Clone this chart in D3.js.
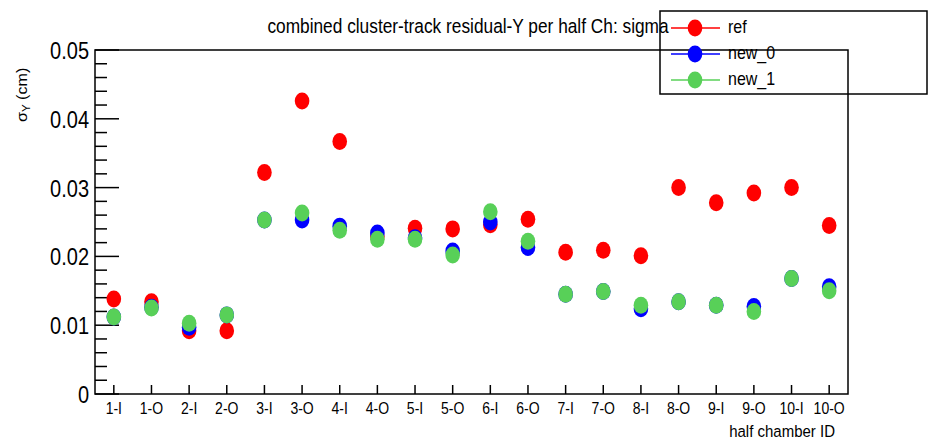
<!DOCTYPE html>
<html><head><meta charset="utf-8">
<script src="https://cdn.jsdelivr.net/npm/d3@7"></script>
<style>body{margin:0;background:#fff}svg{display:block}text{font-family:"Liberation Sans",Arial,sans-serif;fill:#000}</style>
</head><body>
<svg id="c" width="928" height="440"></svg>
<script>
const categories = ["1-I","1-O","2-I","2-O","3-I","3-O","4-I","4-O","5-I","5-O","6-I","6-O","7-I","7-O","8-I","8-O","9-I","9-O","10-I","10-O"];
const refVals  = [0.0138,0.0134,0.0092,0.0092,0.0322,0.0426,0.0367,0.0229,0.0241,0.0240,0.0246,0.0254,0.0206,0.0209,0.0201,0.0300,0.0278,0.0292,0.0300,0.0245];
const new0Vals = [0.0112,0.0126,0.0097,0.0115,0.0253,0.0253,0.0244,0.0234,0.0227,0.0208,0.0250,0.0213,0.0145,0.0149,0.0124,0.0134,0.0129,0.0127,0.0168,0.0156];
const new1Vals = [0.0112,0.0125,0.0103,0.0115,0.0253,0.0263,0.0238,0.0225,0.0225,0.0202,0.0265,0.0222,0.0145,0.0149,0.0129,0.0134,0.0129,0.0120,0.0168,0.0150];
const yTicks = [0,0.01,0.02,0.03,0.04,0.05];
const seriesNames = ["ref","new_0","new_1"];
const seriesColors = ["#ff0000","#0000ff","#58d058"];

const L=95,R=848,T=50,B=394, S=1.15;
const svg=d3.select("#c");
const x=d3.scaleBand().domain(categories).range([L,R]);
const y=d3.scaleLinear().domain([0,0.05]).range([B,T]);

function txt(g,str,px,py,size,anchor){
  const t=g.append("g").attr("transform",`translate(${px},${py}) scale(1,${S})`)
    .append("text").attr("font-size",size).attr("text-anchor",anchor||"start").text(str);
  return t;
}

// frame
svg.append("rect").attr("x",L).attr("y",T).attr("width",R-L).attr("height",B-T)
  .attr("fill","none").attr("stroke","#000").attr("stroke-width",1.5);

// y axis ticks
const yMinor=d3.range(0,0.0501,0.002);
svg.append("g").selectAll("line").data(yMinor).join("line")
  .attr("x1",L).attr("x2",d=>Math.abs(d/0.01-Math.round(d/0.01))<1e-6?L+24:L+12)
  .attr("y1",d=>y(d)).attr("y2",d=>y(d)).attr("stroke","#000").attr("stroke-width",1.5);
const yl=svg.append("g");
yTicks.forEach(v=>txt(yl,v===0?"0":d3.format(".2f")(v),89,y(v)+9,20,"end").attr("fill","#111"));

// x axis ticks
svg.append("g").selectAll("line").data(categories).join("line")
  .attr("x1",d=>x(d)+x.bandwidth()/2).attr("x2",d=>x(d)+x.bandwidth()/2)
  .attr("y1",B).attr("y2",B-9).attr("stroke","#000").attr("stroke-width",1.5);
const xl=svg.append("g");
categories.forEach(c=>txt(xl,c,x(c)+x.bandwidth()/2,414,14,"middle").attr("fill","#333"));

// axis titles
txt(svg,"half chamber ID",835,437,15,"end").attr("fill","#111");
const yt=svg.append("g").attr("transform","translate(27,122) rotate(-90) scale(1.15,1)")
  .append("text").attr("font-size",14).attr("text-anchor","start").attr("fill","#111");
yt.append("tspan").text("σ");
yt.append("tspan").attr("font-size",10).attr("dy",3).text("Y");
yt.append("tspan").attr("dy",-3).text(" (cm)");

// title
txt(svg,"combined cluster-track residual-Y per half Ch: sigma",468,33,17.3,"middle").attr("fill","#111");

// data
[refVals,new0Vals,new1Vals].forEach((vals,i)=>{
  svg.append("g").selectAll("ellipse").data(vals).join("ellipse")
    .attr("cx",(d,j)=>x(categories[j])+x.bandwidth()/2).attr("cy",d=>y(d))
    .attr("rx",7.3).attr("ry",8.5).attr("fill",seriesColors[i]);
});

// legend
const lg=svg.append("g");
lg.append("rect").attr("x",660).attr("y",11).attr("width",267).attr("height",83)
  .attr("fill","none").attr("stroke","#000").attr("stroke-width",1.5);
seriesNames.forEach((n,i)=>{
  const yy=28+i*26;
  lg.append("line").attr("x1",671).attr("x2",720).attr("y1",yy).attr("y2",yy).attr("stroke",seriesColors[i]).attr("stroke-width",1.3);
  lg.append("ellipse").attr("cx",695).attr("cy",yy).attr("rx",7.3).attr("ry",8.5).attr("fill",seriesColors[i]);
  txt(lg,n,728,yy+5,16,"start").attr("fill","#111");
});
</script>
</body></html>
